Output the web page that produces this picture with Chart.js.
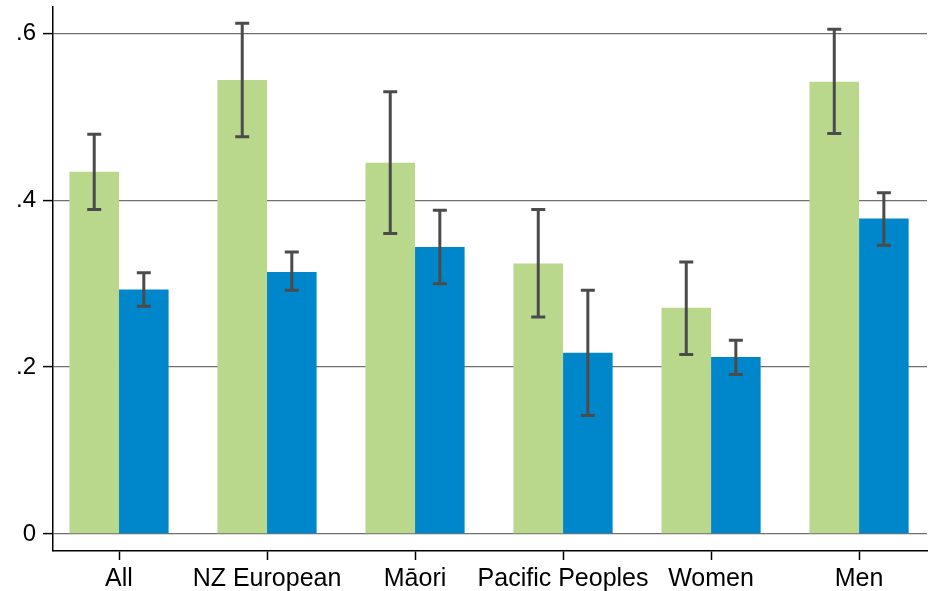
<!DOCTYPE html>
<html>
<head>
<meta charset="utf-8">
<script src="https://cdn.jsdelivr.net/npm/chart.js@4/dist/chart.umd.min.js"></script>
<style>
  html, body { margin: 0; padding: 0; background: #fff; }
  #wrap { width: 934px; height: 591px; }
</style>
</head>
<body>
<div id="wrap"><canvas id="bars" width="934" height="591"></canvas></div>
<script>
// categories and values
const categories = ['All', 'NZ European', 'M\u0101ori', 'Pacific Peoples', 'Women', 'Men'];
const greenVals = [0.434, 0.544, 0.445, 0.324, 0.271, 0.542];
const greenLow  = [0.389, 0.476, 0.360, 0.260, 0.215, 0.480];
const greenHigh = [0.479, 0.612, 0.530, 0.389, 0.326, 0.605];
const blueVals  = [0.293, 0.314, 0.344, 0.217, 0.212, 0.378];
const blueLow   = [0.273, 0.292, 0.300, 0.142, 0.191, 0.346];
const blueHigh  = [0.313, 0.338, 0.388, 0.292, 0.232, 0.409];
const yTicks = [0, 0.2, 0.4, 0.6];

const GREEN = 'rgb(185, 216, 140)';
const BLUE = 'rgb(0, 134, 203)';

// error bars drawn with the chart's own scales
const errorBars = {
    id: 'errorBars',
    afterDatasetsDraw(chart) {
        const ctx = chart.ctx;
        const yScale = chart.scales.y;
        const ranges = [[greenLow, greenHigh], [blueLow, blueHigh]];
        ctx.save();
        ctx.strokeStyle = '#4b4b4b';
        ctx.lineWidth = 3;
        ranges.forEach((r, di) => {
            const meta = chart.getDatasetMeta(di);
            meta.data.forEach((bar, i) => {
                const x = bar.x;
                const yLo = yScale.getPixelForValue(r[0][i]);
                const yHi = yScale.getPixelForValue(r[1][i]);
                ctx.beginPath();
                ctx.moveTo(x, yLo);
                ctx.lineTo(x, yHi);
                ctx.moveTo(x - 7, yLo);
                ctx.lineTo(x + 7, yLo);
                ctx.moveTo(x - 7, yHi);
                ctx.lineTo(x + 7, yHi);
                ctx.stroke();
            });
        });
        ctx.restore();
    }
};

const data = {
    datasets: [
        {
            label: 'green',
            data: categories.map((c, i) => ({ x: i, y: greenVals[i] })),
            backgroundColor: GREEN,
            borderWidth: 0
        },
        {
            label: 'blue',
            data: categories.map((c, i) => ({ x: i, y: blueVals[i] })),
            backgroundColor: BLUE,
            borderWidth: 0
        }
    ]
};

const config = {
    type: 'bar',
    data: data,
    options: {
        responsive: false,
        animation: false,
        devicePixelRatio: 1,
        categoryPercentage: 0.67,
        barPercentage: 1.0,
        layout: { padding: { top: 7, right: 7, left: 0, bottom: 0 } },
        plugins: {
            legend: { display: false },
            tooltip: { enabled: false }
        },
        scales: {
            x: {
                type: 'linear',
                offset: false,
                min: -0.446,
                max: 5.459,
                afterBuildTicks: axis => { axis.ticks = categories.map((c, i) => ({ value: i })); },
                afterFit: scale => {
                    scale.height = 40;
                    scale.paddingLeft = 0;
                    scale.paddingRight = 0;
                },
                ticks: {
                    callback: v => categories[v],
                    color: '#000',
                    font: { family: 'Liberation Sans, Arial, sans-serif', size: 25 },
                    padding: 4,
                    maxRotation: 0,
                    autoSkip: false
                },
                grid: {
                    offset: false,
                    drawOnChartArea: false,
                    drawTicks: true,
                    tickLength: 9,
                    tickColor: '#000',
                    tickWidth: 1.5
                },
                border: { display: true, color: '#000', width: 1.5 }
            },
            y: {
                min: -0.0205,
                max: 0.6316,
                afterBuildTicks: axis => { axis.ticks = yTicks.map(v => ({ value: v })); },
                afterFit: scale => {
                    scale.width = 53;
                    scale.paddingTop = 0;
                    scale.paddingBottom = 0;
                },
                ticks: {
                    callback: v => v === 0 ? '0' : v.toFixed(1).replace(/^0/, ''),
                    color: '#000',
                    font: { family: 'Liberation Sans, Arial, sans-serif', size: 24 },
                    padding: 7
                },
                grid: {
                    color: '#707070',
                    lineWidth: 1.2,
                    tickLength: 10,
                    tickColor: '#000',
                    tickWidth: 1.5
                },
                border: { display: true, color: '#000', width: 1.5 }
            }
        }
    },
    plugins: [errorBars]
};

const ctx = document.getElementById('bars').getContext('2d');
const myChart = new Chart(ctx, config);
</script>
</body>
</html>
